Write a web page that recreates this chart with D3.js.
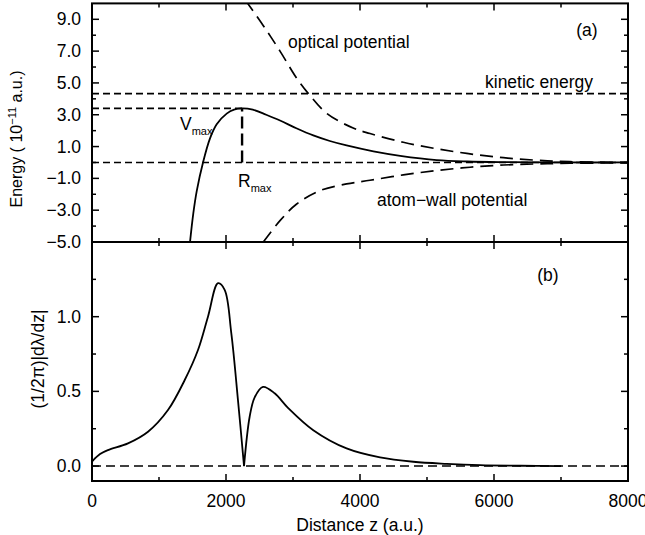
<!DOCTYPE html>
<html>
<head>
<meta charset="utf-8">
<script src="https://cdn.jsdelivr.net/npm/d3@7"></script>
<style>
  body { margin: 0; background: #fff; }
  svg { display: block; font-family: "Liberation Sans", Arial, Helvetica, sans-serif; }
</style>
</head>
<body>
<div class="chart"></div>
<script>
// panel (a): energies, in units of 1e-11 a.u.
const zTotal = [1463, 1512, 1563, 1657, 1760, 1861, 2010, 2120, 2234, 2400, 2600, 2806, 3050, 3303, 3550, 3800, 4200, 4600, 5145, 5600, 6134, 7000, 8000];
const vTotal = [-5.0, -3.2, -1.8, 0.0, 1.5, 2.4, 3.07, 3.32, 3.4, 3.32, 3.0, 2.64, 2.15, 1.70, 1.35, 1.07, 0.70, 0.42, 0.15, 0.06, 0.02, 0.0, 0.0];

const zOptical = [2290, 2557, 2806, 3055, 3230, 3508, 3906, 4149, 4646, 5145, 5642, 6140, 6637, 7134, 8000];
const vOptical = [10.2, 8.6, 7.0, 5.3, 4.33, 3.07, 2.15, 1.82, 1.27, 0.86, 0.54, 0.30, 0.14, 0.05, 0.0];

const zWall = [2557, 2806, 3055, 3403, 3800, 4149, 4646, 5145, 5642, 6140, 6637, 7134, 8000];
const vWall = [-5.0, -3.66, -2.61, -1.77, -1.35, -1.12, -0.78, -0.51, -0.30, -0.16, -0.09, -0.05, -0.02];

const kinetic = 4.33;
const vMax = 3.4;
const rMax = 2240;

// panel (b): (1/2pi)|d lambda/dz|, split at the cusp
const zLambdaIn = [0, 120, 239, 537, 836, 1134, 1384, 1582, 1731, 1881, 1980, 2079, 2179, 2269];
const dLambdaIn = [0.03, 0.08, 0.107, 0.152, 0.23, 0.375, 0.576, 0.777, 1.0, 1.224, 1.18, 0.89, 0.44, 0.0];
const zLambdaOut = [2269, 2353, 2428, 2552, 2726, 2925, 3303, 3800, 4299, 4796, 5294, 5791, 6400, 7000];
const dLambdaOut = [0.0, 0.33, 0.46, 0.53, 0.487, 0.39, 0.24, 0.118, 0.058, 0.029, 0.015, 0.006, 0.002, 0.0];

const xTicks = [0, 1000, 2000, 3000, 4000, 5000, 6000, 7000, 8000];
const aTicks = [-5, -4, -3, -2, -1, 0, 1, 2, 3, 4, 5, 6, 7, 8, 9];
const bTicks = [0, 0.25, 0.5, 0.75, 1.0, 1.25];

const svgWidth = 645, svgHeight = 535;
const left = 92, right = 628;
const aTop = 3.4, aBottom = 242, bBottom = 481;
const fs = "17.5px";

const svg = d3.select(".chart").append("svg")
    .attr("width", svgWidth)
    .attr("height", svgHeight);

const x = d3.scaleLinear().domain([0, 8000]).range([left, right]);
const yA = d3.scaleLinear().domain([-5, 10]).range([aBottom, aTop]);
const yB = d3.scaleLinear().domain([-0.1, 1.5]).range([bBottom, aBottom]);

const defs = svg.append("defs");
defs.append("clipPath").attr("id", "clipA")
    .append("rect").attr("x", left).attr("y", aTop).attr("width", right - left).attr("height", aBottom - aTop);
defs.append("clipPath").attr("id", "clipB")
    .append("rect").attr("x", left).attr("y", aBottom).attr("width", right - left).attr("height", bBottom - aBottom);

// ticks: major length 7, minor 4, all pointing inward
function tickLen(isMajor) { return isMajor ? 7 : 4; }

function drawXTicks(yPos, dir, labels) {
    const g = svg.append("g");
    xTicks.forEach(t => {
        const major = t % 2000 === 0;
        g.append("line")
            .attr("x1", x(t)).attr("x2", x(t))
            .attr("y1", yPos).attr("y2", yPos + dir * tickLen(major))
            .attr("stroke", "#000").attr("stroke-width", 1.5);
        if (labels && major) {
            g.append("text")
                .attr("x", x(t)).attr("y", yPos + 26)
                .attr("text-anchor", "middle")
                .style("font-size", fs)
                .text(t);
        }
    });
}

function drawYTicks(scale, ticks, isMajor, fmt) {
    const g = svg.append("g");
    ticks.forEach(t => {
        const major = isMajor(t);
        [[left, 1], [right, -1]].forEach(([xp, dir]) => {
            g.append("line")
                .attr("x1", xp).attr("x2", xp + dir * tickLen(major))
                .attr("y1", scale(t)).attr("y2", scale(t))
                .attr("stroke", "#000").attr("stroke-width", 1.5);
        });
        if (major) {
            g.append("text")
                .attr("x", left - 11).attr("y", scale(t) + 6)
                .attr("text-anchor", "end")
                .style("font-size", fs)
                .text(fmt(t));
        }
    });
}

const fmt1 = d => d3.format(".1f")(d);

drawXTicks(aTop, 1, false);
drawXTicks(aBottom, -1, false);
drawXTicks(aBottom, 1, false);
drawXTicks(bBottom, -1, true);

drawYTicks(yA, aTicks, t => Math.abs(t % 2) === 1, fmt1);
drawYTicks(yB, bTicks, t => Math.abs((t * 2) % 1) < 1e-9, fmt1);

// panel (a) curves
const pa = svg.append("g").attr("clip-path", "url(#clipA)");

function hline(g, scale, v, x0, x1, dash, w) {
    g.append("line")
        .attr("x1", x(x0)).attr("x2", x(x1))
        .attr("y1", scale(v)).attr("y2", scale(v))
        .attr("stroke", "#000").attr("stroke-width", w)
        .attr("stroke-dasharray", dash);
}

hline(pa, yA, kinetic, 0, 8000, "7,4", 1.6);
hline(pa, yA, vMax, 0, rMax, "7,4", 1.6);
hline(pa, yA, 0, 0, 8000, "7,4", 1.6);

pa.append("line")
    .attr("x1", x(rMax)).attr("x2", x(rMax))
    .attr("y1", yA(0)).attr("y2", yA(vMax))
    .attr("stroke", "#000").attr("stroke-width", 2.4)
    .attr("stroke-dasharray", "12,5");

const lineA = d3.line()
    .x(d => x(d[0]))
    .y(d => yA(d[1]))
    .curve(d3.curveCatmullRom.alpha(0.5));

pa.append("path")
    .datum(d3.zip(zOptical, vOptical))
    .attr("d", lineA)
    .attr("fill", "none").attr("stroke", "#000").attr("stroke-width", 1.7)
    .attr("stroke-dasharray", "13,7");

pa.append("path")
    .datum(d3.zip(zWall, vWall))
    .attr("d", lineA)
    .attr("fill", "none").attr("stroke", "#000").attr("stroke-width", 1.7)
    .attr("stroke-dasharray", "13,7");

pa.append("path")
    .datum(d3.zip(zTotal, vTotal))
    .attr("d", lineA)
    .attr("fill", "none").attr("stroke", "#000").attr("stroke-width", 1.8);

// panel (b) curves
const pb = svg.append("g").attr("clip-path", "url(#clipB)");

hline(pb, yB, 0, 0, 8000, "9,5", 1.6);

const lineB = d3.line()
    .x(d => x(d[0]))
    .y(d => yB(d[1]))
    .curve(d3.curveCatmullRom.alpha(0.5));

[[zLambdaIn, dLambdaIn], [zLambdaOut, dLambdaOut]].forEach(([zs, vs]) => {
    pb.append("path")
        .datum(d3.zip(zs, vs))
        .attr("d", lineB)
        .attr("fill", "none").attr("stroke", "#000").attr("stroke-width", 1.8);
});

// frames
[[aTop, aBottom], [aBottom, bBottom]].forEach(([t, b]) => {
    svg.append("rect")
        .attr("x", left).attr("y", t)
        .attr("width", right - left).attr("height", b - t)
        .attr("fill", "none").attr("stroke", "#000").attr("stroke-width", 2);
});

// annotations
function label(txt, xp, yp, anchor) {
    return svg.append("text")
        .attr("x", xp).attr("y", yp)
        .attr("text-anchor", anchor || "start")
        .style("font-size", fs)
        .text(txt);
}

label("optical potential", 288, 48);
label("kinetic energy", 485, 88);
label("atom\u2212wall potential", 377, 206);
label("(a)", 587, 36, "middle");
label("(b)", 548, 281, "middle");

const vm = svg.append("text").attr("x", 180).attr("y", 130).style("font-size", fs);
vm.append("tspan").text("V");
vm.append("tspan").attr("dy", 5).style("font-size", "11px").text("max");

const rm = svg.append("text").attr("x", 238).attr("y", 187).style("font-size", fs);
rm.append("tspan").text("R");
rm.append("tspan").attr("dy", 5).style("font-size", "11px").text("max");

label("Distance z (a.u.)", (left + right) / 2, 531, "middle");

const ey = svg.append("text")
    .attr("transform", `translate(22, 139) rotate(-90)`)
    .attr("text-anchor", "middle")
    .style("font-size", "16px");
ey.append("tspan").text("Energy ( 10");
ey.append("tspan").attr("dy", -6).style("font-size", "11px").text("\u221211");
ey.append("tspan").attr("dy", 6).text(" a.u.)");

svg.append("text")
    .attr("transform", `translate(44, 359) rotate(-90)`)
    .attr("text-anchor", "middle")
    .style("font-size", fs)
    .text("(1/2\u03c0)|d\u03bb/dz|");
</script>
</body>
</html>
